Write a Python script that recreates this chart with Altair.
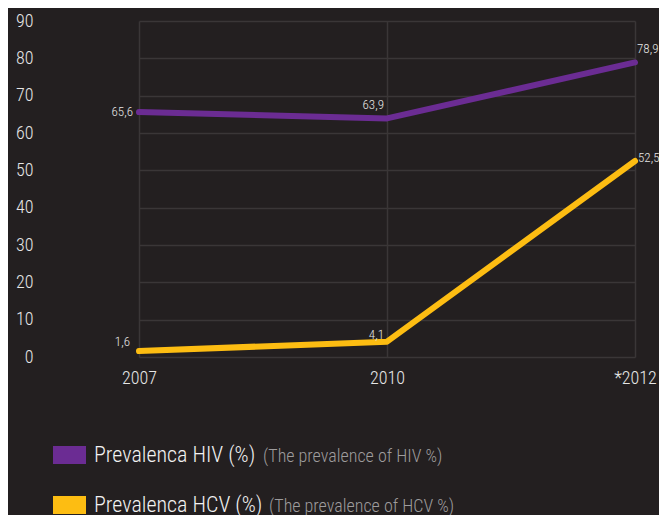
import altair as alt
import pandas as pd

years = ["2007", "2010", "*2012"]
series = ["Prevalenca HIV (%)", "Prevalenca HCV (%)"]
subtitles = ["(The prevalence of HIV %)", "(The prevalence of HCV %)"]
hiv = [65.6, 63.9, 78.9]
hcv = [1.6, 4.1, 52.5]
colors = ["#6b2c93", "#fdbd12"]

rows = []
for y, v in zip(years, hiv):
    rows.append({"year": y, "series": series[0], "value": v, "label": f"{v:.1f}".replace(".", ",")})
for y, v in zip(years, hcv):
    rows.append({"year": y, "series": series[1], "value": v, "label": f"{v:.1f}".replace(".", ",")})
df = pd.DataFrame(rows)
leg = pd.DataFrame({"series": series, "sub": subtitles})

FONT = "Roboto Condensed, Liberation Sans Narrow, DejaVu Sans Condensed, sans-serif"
BG = "#231f20"
GRID = "#3a3637"
XS = alt.Scale(type="point", domain=years, range=[99, 595], padding=0)
YS = alt.Scale(domain=[0, 90])

XAX = alt.Axis(title=None, grid=True, gridColor=GRID, gridWidth=1.5, domain=False, ticks=False,
               labelAngle=0, labelFontSize=18, labelFontWeight=300, labelColor="#e6e6e6",
               labelPadding=12, labelFont=FONT)
YAX = alt.Axis(title=None, values=list(range(0, 91, 10)), grid=True, gridColor=GRID, gridWidth=1.5,
               domain=False, ticks=False, labelFontSize=18, labelFontWeight=300, labelColor="#e6e6e6",
               labelPadding=7, labelFont=FONT, labelOverlap=False)
xenc = alt.X("year:N", sort=years, scale=XS, axis=XAX)
yenc = alt.Y("value:Q", scale=YS, axis=YAX)
cenc = alt.Color("series:N", sort=series, scale=alt.Scale(domain=series, range=colors), legend=None)

base = alt.Chart(df)
lines = base.mark_line(strokeWidth=6, strokeCap="round", strokeJoin="round").encode(x=xenc, y=yenc, color=cenc)

def lab(s, yr, align, dx, dy):
    return base.transform_filter(
        (alt.datum.series == s) & (alt.datum.year == yr)
    ).mark_text(align=align, baseline="middle", dx=dx, dy=dy, fontSize=13, fontWeight=300,
                color="#e6e6e6", font=FONT).encode(x=xenc, y=yenc, text="label:N")

labels = [
    lab(series[0], years[0], "right", -6, 0),
    lab(series[0], years[1], "right", -3, -13),
    lab(series[0], years[2], "left", 2, -13),
    lab(series[1], years[0], "right", -9, -9),
    lab(series[1], years[1], "right", -3, -7),
    lab(series[1], years[2], "left", 3, -3),
]

main = alt.layer(lines, *labels)

ly = alt.Y("series:N", sort=series, scale=alt.Scale(type="point", domain=series, range=[434, 484], padding=0), axis=None)
lbase = alt.Chart(leg)
sw = lbase.mark_point(shape="M-1,-0.545H1V0.545H-1Z", size=1089, filled=True, opacity=1, strokeWidth=0).encode(
    x=alt.value(29.5), y=ly, color=cenc)
ltxt = lbase.mark_text(align="left", baseline="middle", fontSize=22, fontWeight=300, color="#f2f2f2", font=FONT).encode(
    x=alt.value(54), y=ly, text="series:N")
lsub = lbase.mark_text(align="left", baseline="middle", dy=2, fontSize=18, fontWeight=300, color="#9e9c9d", font=FONT).encode(
    x=alt.X("series:N", sort=series, scale=alt.Scale(type="point", domain=series, range=[223, 229], padding=0), axis=None),
    y=ly, text="sub:N")
legend = alt.layer(sw, ltxt, lsub)

chart = alt.layer(main, legend).resolve_scale(x="independent", y="independent").properties(
    width=619, height=336, background=BG,
    autosize=alt.AutoSizeParams(type="none"),
    padding={"left": 32, "top": 13, "right": 0, "bottom": 158},
).configure_view(stroke=None)

chart.save("out.html", embed_options={"renderer": "svg", "actions": False})
